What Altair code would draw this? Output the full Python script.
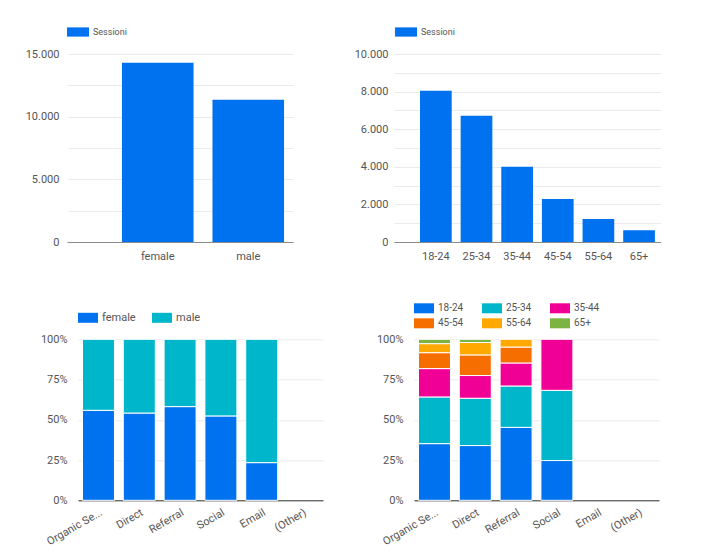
import altair as alt
import pandas as pd

# ---------------- data ----------------
gender_cats = ["female", "male"]
gender_sessions = [14300, 11350]

age_cats = ["18-24", "25-34", "35-44", "45-54", "55-64", "65+"]
age_sessions = [8050, 6720, 4000, 2290, 1220, 620]

channels = ["Organic Search", "Direct", "Referral", "Social", "Email", "(Other)"]
female_share = [0.559, 0.542, 0.582, 0.524, 0.234]
male_share = [0.441, 0.458, 0.418, 0.476, 0.766]

organic_age = [0.352, 0.290, 0.176, 0.099, 0.056, 0.027]
direct_age = [0.340, 0.294, 0.141, 0.128, 0.077, 0.020]
referral_age = [0.453, 0.257, 0.143, 0.099, 0.048, 0.0]
social_age = [0.247, 0.436, 0.317, 0.0, 0.0, 0.0]

palette = ["#0072f0", "#00b6cb", "#f10096", "#f66d00", "#ffa800", "#7cb342"]
BLUE = palette[0]

RECT22 = "M-1,-0.42H1V0.42H-1Z"
RECT20 = "M-1,-0.5H1V0.5H-1Z"

# ---------------- tables ----------------
df_gender = pd.DataFrame({"gender": gender_cats, "sessions": gender_sessions, "serie": "Sessioni"})
df_age = pd.DataFrame({"age": age_cats, "sessions": age_sessions, "serie": "Sessioni"})

rows = []
for ch, f, m in zip(channels, female_share, male_share):
    rows.append({"channel": ch, "gender": "female", "share": f, "ord": 0})
    rows.append({"channel": ch, "gender": "male", "share": m, "ord": 1})
df_ch_gender = pd.DataFrame(rows)

rows = []
for ch, vals in zip(channels, [organic_age, direct_age, referral_age, social_age]):
    for i, (a, v) in enumerate(zip(age_cats, vals)):
        if v > 0:
            rows.append({"channel": ch, "age": a, "share": v, "ord": i})
df_ch_age = pd.DataFrame(rows)

it_fmt = "replace(format(datum.value, ','), ',', '.')"
trunc = "length(datum.label) > 10 ? slice(datum.label, 0, 10) + '...' : datum.label"

# ---------------- top-left ----------------
tl = alt.Chart(df_gender).mark_bar(color=BLUE).encode(
    x=alt.X("gender:N", sort=gender_cats,
            scale=alt.Scale(paddingInner=0.209, paddingOuter=0.353, align=0.86),
            axis=alt.Axis(title=None, labelAngle=0, domainColor="#8a8a8a", ticks=False,
                          tickSize=0, labelPadding=8)),
    y=alt.Y("sessions:Q", scale=alt.Scale(domain=[0, 15000], nice=False),
            axis=alt.Axis(title=None, values=list(range(0, 15001, 2500)),
                          labelExpr="datum.value % 5000 == 0 ? " + it_fmt + " : ''",
                          domain=False, ticks=False, tickSize=0, labelPadding=8,
                          minExtent=59, maxExtent=59, labelOverlap=False)),
    color=alt.Color("serie:N", scale=alt.Scale(range=[BLUE]),
                    legend=alt.Legend(title=None, orient="none", legendX=0, legendY=-33,
                                      symbolType=RECT22, symbolSize=484, labelFontSize=9,
                                      symbolStrokeWidth=0, symbolOpacity=1)),
).properties(width=226, height=188)

# ---------------- top-right ----------------
tr = alt.Chart(df_age).mark_bar(color=BLUE).encode(
    x=alt.X("age:N", sort=age_cats,
            scale=alt.Scale(paddingInner=0.22, paddingOuter=0.395, align=0.81),
            axis=alt.Axis(title=None, labelAngle=0, domainColor="#8a8a8a", ticks=False,
                          tickSize=0, labelPadding=8)),
    y=alt.Y("sessions:Q", scale=alt.Scale(domain=[0, 10000], nice=False),
            axis=alt.Axis(title=None, values=list(range(0, 10001, 1000)),
                          labelExpr="datum.value % 2000 == 0 ? " + it_fmt + " : ''",
                          domain=False, ticks=False, tickSize=0, labelPadding=6,
                          minExtent=40, maxExtent=40, labelOverlap=False)),
    color=alt.Color("serie:N", scale=alt.Scale(range=[BLUE]),
                    legend=alt.Legend(title=None, orient="none", legendX=1, legendY=-33,
                                      symbolType=RECT22, symbolSize=484, labelFontSize=9,
                                      symbolStrokeWidth=0, symbolOpacity=1)),
).properties(width=267, height=188)

# ---------------- bottom-left ----------------
bl = alt.Chart(df_ch_gender).mark_bar(stroke="white", strokeWidth=1).encode(
    x=alt.X("channel:N", sort=channels,
            scale=alt.Scale(domain=channels, paddingInner=0.216, paddingOuter=0.11),
            axis=alt.Axis(title=None, labelAngle=330, labelExpr=trunc, domainColor="#333",
                          ticks=False, tickSize=0, labelPadding=6)),
    y=alt.Y("share:Q", stack="normalize", scale=alt.Scale(domain=[0, 1], nice=False),
            axis=alt.Axis(title=None, values=[0, 0.25, 0.5, 0.75, 1], format="%",
                          domain=False, ticks=False, tickSize=0, labelPadding=11,
                          minExtent=70, maxExtent=70)),
    color=alt.Color("gender:N", scale=alt.Scale(domain=["female", "male"], range=palette[:2]),
                    legend=alt.Legend(title=None, orient="none", direction="horizontal",
                                      legendX=0, legendY=-31.5, symbolType=RECT20, symbolSize=400,
                                      labelFontSize=11, columnPadding=16,
                                      symbolStrokeWidth=0, symbolOpacity=1)),
    order=alt.Order("ord:Q"),
).properties(width=245, height=161)

# ---------------- bottom-right ----------------
br = alt.Chart(df_ch_age).mark_bar(stroke="white", strokeWidth=1).encode(
    x=alt.X("channel:N", sort=channels,
            scale=alt.Scale(domain=channels, paddingInner=0.216, paddingOuter=0.11),
            axis=alt.Axis(title=None, labelAngle=330, labelExpr=trunc, domainColor="#333",
                          ticks=False, tickSize=0, labelPadding=6)),
    y=alt.Y("share:Q", stack="normalize", scale=alt.Scale(domain=[0, 1], nice=False),
            axis=alt.Axis(title=None, values=[0, 0.25, 0.5, 0.75, 1], format="%",
                          domain=False, ticks=False, tickSize=0, labelPadding=11,
                          minExtent=40, maxExtent=40)),
    color=alt.Color("age:N", scale=alt.Scale(domain=age_cats, range=palette),
                    legend=alt.Legend(title=None, orient="none", columns=3, direction="horizontal",
                                      legendX=0, legendY=-41, symbolType=RECT20, symbolSize=400,
                                      labelFontSize=10, columnPadding=18, rowPadding=-3,
                                      symbolStrokeWidth=0, symbolOpacity=1)),
    order=alt.Order("ord:Q"),
).properties(width=245, height=161)

# invisible 1px placeholder used only to offset the lower row horizontally
spacer = alt.Chart(pd.DataFrame({"s": [0]})).mark_point(size=0, opacity=0, strokeWidth=0).encode(
    x=alt.value(0), y=alt.value(0)
).properties(width=1, height=1)

top = alt.hconcat(tl, tr, spacing=61).resolve_scale(
    x="independent", y="independent", color="independent").resolve_legend(color="independent")
bottom_inner = alt.hconcat(bl, br, spacing=51).resolve_scale(
    x="independent", y="independent", color="independent").resolve_legend(color="independent")
bottom = alt.hconcat(spacer, bottom_inner, spacing=-60).resolve_scale(
    x="independent", y="independent", color="independent").resolve_legend(color="independent")

chart = alt.vconcat(top, bottom, spacing=37.3).resolve_scale(
    x="independent", y="independent", color="independent"
).resolve_legend(color="independent").properties(
    padding={"left": 0, "top": 13, "right": 0, "bottom": 0}
).configure_view(stroke=None).configure_axis(
    labelFont="Roboto", labelColor="#555555", labelFontSize=11, gridColor="#ebebeb"
).configure_legend(
    labelFont="Roboto", labelColor="#555555", padding=0, labelOffset=4
)

chart.save("out.html", embed_options={"renderer": "svg", "actions": False})
